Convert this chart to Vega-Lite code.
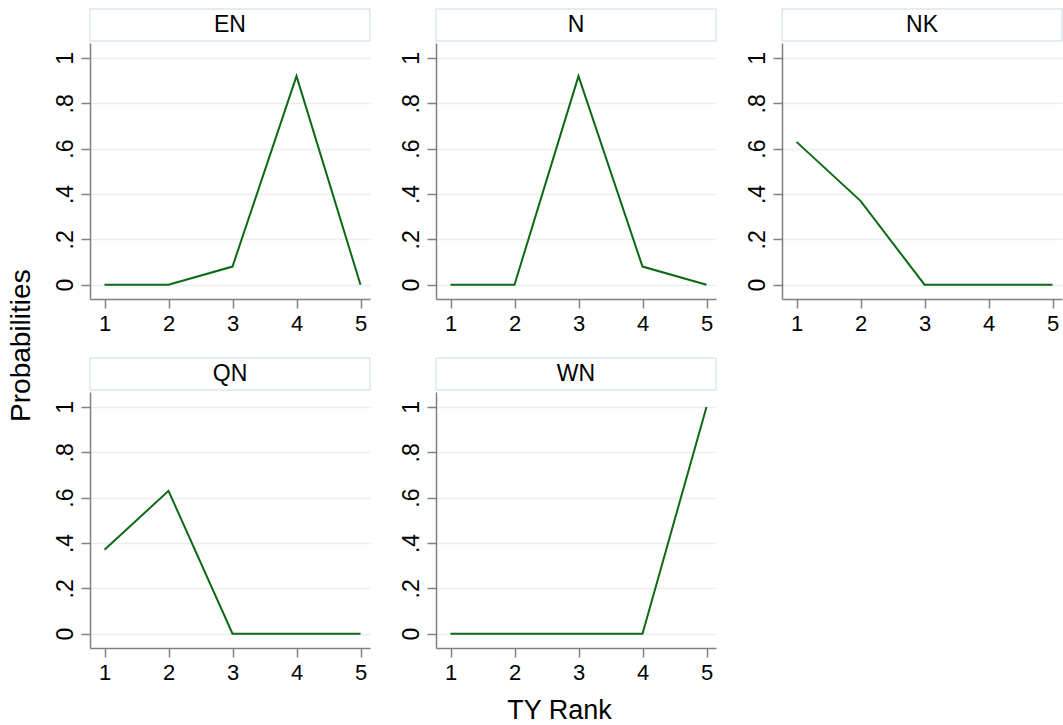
{
  "$schema": "https://vega.github.io/schema/vega-lite/v6.json",
  "padding": {"left": 7, "top": 8, "right": 0, "bottom": 0},
  "background": "white",
  "datasets": {
    "probs": [
      {"group": "EN", "rank": 1, "p": 0},
      {"group": "EN", "rank": 2, "p": 0},
      {"group": "EN", "rank": 3, "p": 0.08},
      {"group": "EN", "rank": 4, "p": 0.92},
      {"group": "EN", "rank": 5, "p": 0},
      {"group": "N", "rank": 1, "p": 0},
      {"group": "N", "rank": 2, "p": 0},
      {"group": "N", "rank": 3, "p": 0.92},
      {"group": "N", "rank": 4, "p": 0.08},
      {"group": "N", "rank": 5, "p": 0},
      {"group": "NK", "rank": 1, "p": 0.63},
      {"group": "NK", "rank": 2, "p": 0.37},
      {"group": "NK", "rank": 3, "p": 0},
      {"group": "NK", "rank": 4, "p": 0},
      {"group": "NK", "rank": 5, "p": 0},
      {"group": "QN", "rank": 1, "p": 0.37},
      {"group": "QN", "rank": 2, "p": 0.63},
      {"group": "QN", "rank": 3, "p": 0},
      {"group": "QN", "rank": 4, "p": 0},
      {"group": "QN", "rank": 5, "p": 0},
      {"group": "WN", "rank": 1, "p": 0},
      {"group": "WN", "rank": 2, "p": 0},
      {"group": "WN", "rank": 3, "p": 0},
      {"group": "WN", "rank": 4, "p": 0},
      {"group": "WN", "rank": 5, "p": 1}
    ]
  },
  "data": {"name": "probs"},
  "title": {
    "text": "Probabilities",
    "orient": "left",
    "anchor": "middle",
    "font": "Liberation Sans",
    "fontSize": 28,
    "fontWeight": "normal",
    "color": "#000000",
    "offset": 18,
    "dx": 20
  },
  "spacing": 23,
  "vconcat": [
    {
      "spacing": 29,
      "hconcat": [
        {
          "spacing": 1,
          "vconcat": [
            {"width": 280, "height": 32, "view": {"stroke": "#dde7ee", "strokeWidth": 1.5, "fill": "white"},
             "transform": [{"filter": "datum.group == 'EN' && datum.rank == 1"}],
             "mark": {"type": "text", "font": "Liberation Sans", "fontSize": 23, "baseline": "middle", "color": "#000000"},
             "encoding": {"text": {"field": "group"}}},
            {"width": 280, "height": 256, "view": {"stroke": null},
             "transform": [{"filter": "datum.group == 'EN'"}],
             "mark": {"type": "line", "color": "#0d6a14", "strokeWidth": 2},
             "encoding": {
               "x": {"field": "rank", "type": "quantitative", "scale": {"domain": [0.7734, 5.1484], "nice": false, "zero": false}, "axis": {"title": null, "values": [1, 2, 3, 4, 5], "format": "d"}},
               "y": {"field": "p", "type": "quantitative", "scale": {"domain": [-0.063, 1.066], "nice": false, "zero": false}, "axis": {"title": null, "values": [0, 0.2, 0.4, 0.6, 0.8, 1]}}
             }}
          ]
        },
        {
          "spacing": 1,
          "vconcat": [
            {"width": 280, "height": 32, "view": {"stroke": "#dde7ee", "strokeWidth": 1.5, "fill": "white"},
             "transform": [{"filter": "datum.group == 'N' && datum.rank == 1"}],
             "mark": {"type": "text", "font": "Liberation Sans", "fontSize": 23, "baseline": "middle", "color": "#000000"},
             "encoding": {"text": {"field": "group"}}},
            {"width": 280, "height": 256, "view": {"stroke": null},
             "transform": [{"filter": "datum.group == 'N'"}],
             "mark": {"type": "line", "color": "#0d6a14", "strokeWidth": 2},
             "encoding": {
               "x": {"field": "rank", "type": "quantitative", "scale": {"domain": [0.7734, 5.1484], "nice": false, "zero": false}, "axis": {"title": null, "values": [1, 2, 3, 4, 5], "format": "d"}},
               "y": {"field": "p", "type": "quantitative", "scale": {"domain": [-0.063, 1.066], "nice": false, "zero": false}, "axis": {"title": null, "values": [0, 0.2, 0.4, 0.6, 0.8, 1]}}
             }}
          ]
        },
        {
          "spacing": 1,
          "vconcat": [
            {"width": 280, "height": 32, "view": {"stroke": "#dde7ee", "strokeWidth": 1.5, "fill": "white"},
             "transform": [{"filter": "datum.group == 'NK' && datum.rank == 1"}],
             "mark": {"type": "text", "font": "Liberation Sans", "fontSize": 23, "baseline": "middle", "color": "#000000"},
             "encoding": {"text": {"field": "group"}}},
            {"width": 280, "height": 256, "view": {"stroke": null},
             "transform": [{"filter": "datum.group == 'NK'"}],
             "mark": {"type": "line", "color": "#0d6a14", "strokeWidth": 2},
             "encoding": {
               "x": {"field": "rank", "type": "quantitative", "scale": {"domain": [0.7734, 5.1484], "nice": false, "zero": false}, "axis": {"title": null, "values": [1, 2, 3, 4, 5], "format": "d"}},
               "y": {"field": "p", "type": "quantitative", "scale": {"domain": [-0.063, 1.066], "nice": false, "zero": false}, "axis": {"title": null, "values": [0, 0.2, 0.4, 0.6, 0.8, 1]}}
             }}
          ]
        }
      ]
    },
    {
      "spacing": 29,
      "hconcat": [
        {
          "spacing": 1,
          "vconcat": [
            {"width": 280, "height": 32, "view": {"stroke": "#dde7ee", "strokeWidth": 1.5, "fill": "white"},
             "transform": [{"filter": "datum.group == 'QN' && datum.rank == 1"}],
             "mark": {"type": "text", "font": "Liberation Sans", "fontSize": 23, "baseline": "middle", "color": "#000000"},
             "encoding": {"text": {"field": "group"}}},
            {"width": 280, "height": 256, "view": {"stroke": null},
             "transform": [{"filter": "datum.group == 'QN'"}],
             "mark": {"type": "line", "color": "#0d6a14", "strokeWidth": 2},
             "encoding": {
               "x": {"field": "rank", "type": "quantitative", "scale": {"domain": [0.7734, 5.1484], "nice": false, "zero": false}, "axis": {"title": null, "values": [1, 2, 3, 4, 5], "format": "d"}},
               "y": {"field": "p", "type": "quantitative", "scale": {"domain": [-0.063, 1.066], "nice": false, "zero": false}, "axis": {"title": null, "values": [0, 0.2, 0.4, 0.6, 0.8, 1]}}
             }}
          ]
        },
        {
          "spacing": 1,
          "vconcat": [
            {"width": 280, "height": 32, "view": {"stroke": "#dde7ee", "strokeWidth": 1.5, "fill": "white"},
             "transform": [{"filter": "datum.group == 'WN' && datum.rank == 1"}],
             "mark": {"type": "text", "font": "Liberation Sans", "fontSize": 23, "baseline": "middle", "color": "#000000"},
             "encoding": {"text": {"field": "group"}}},
            {"width": 280, "height": 256, "view": {"stroke": null},
             "transform": [{"filter": "datum.group == 'WN'"}],
             "mark": {"type": "line", "color": "#0d6a14", "strokeWidth": 2},
             "encoding": {
               "x": {"field": "rank", "type": "quantitative", "scale": {"domain": [0.7734, 5.1484], "nice": false, "zero": false},
                     "axis": {"title": "TY Rank", "values": [1, 2, 3, 4, 5], "format": "d", "titleX": 123, "titleY": 70, "titleAlign": "center", "titleBaseline": "alphabetic", "titleFont": "Liberation Sans", "titleFontSize": 27, "titleFontWeight": "normal", "titleColor": "#000000"}},
               "y": {"field": "p", "type": "quantitative", "scale": {"domain": [-0.063, 1.066], "nice": false, "zero": false}, "axis": {"title": null, "values": [0, 0.2, 0.4, 0.6, 0.8, 1]}}
             }}
          ]
        }
      ]
    }
  ],
  "config": {
    "view": {"stroke": null},
    "axisX": {
      "grid": false,
      "domainColor": "#808080",
      "domainWidth": 1.5,
      "tickColor": "#808080",
      "tickWidth": 1.5,
      "tickSize": 9,
      "labelFont": "Liberation Sans",
      "labelFontSize": 22,
      "labelColor": "#000000",
      "labelPadding": 5,
      "labelFlush": false
    },
    "axisY": {
      "labelExpr": "datum.value == 0 ? '0' : datum.value == 1 ? '1' : replace(format(datum.value, '.1f'), '0.', '.')",
      "grid": true,
      "gridColor": "#e7eff2",
      "gridWidth": 1.5,
      "domainColor": "#808080",
      "domainWidth": 1.5,
      "tickColor": "#808080",
      "tickWidth": 1.5,
      "tickSize": 9,
      "labelFont": "Liberation Sans",
      "labelFontSize": 23,
      "labelColor": "#000000",
      "labelAngle": -90,
      "labelAlign": "center",
      "labelBaseline": "alphabetic",
      "labelPadding": 9,
      "labelFlush": false,
      "labelOverlap": false
    }
  }
}
